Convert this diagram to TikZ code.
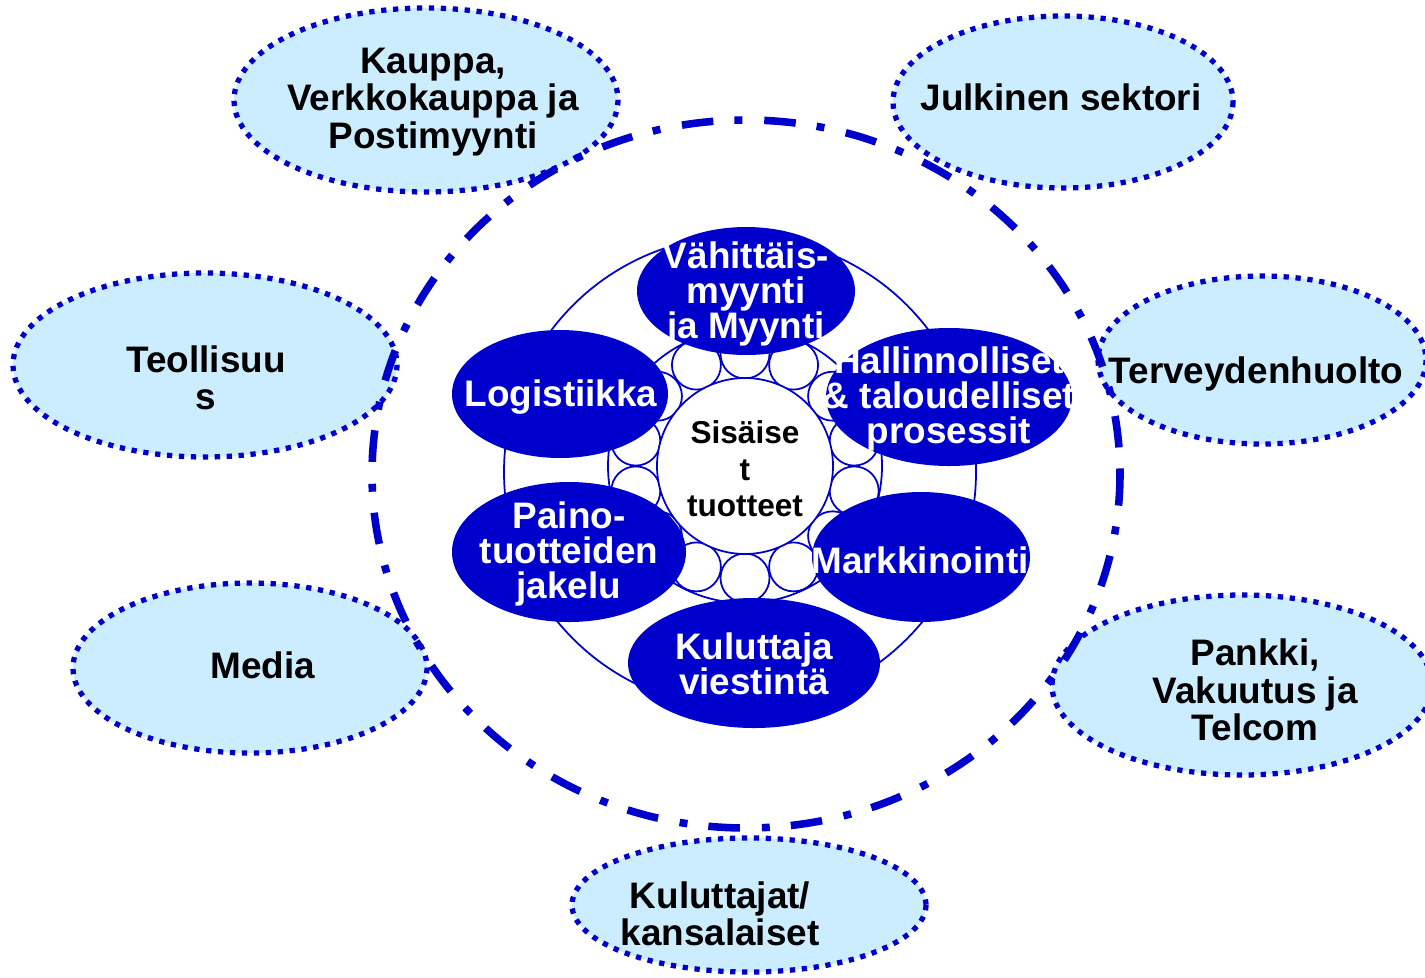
\documentclass[tikz,border=0pt]{standalone}
\usepackage{fontspec}
\setmainfont{Liberation Sans}
\definecolor{sininen}{HTML}{0000CC}
\definecolor{vaalea}{HTML}{CCECFF}

\begin{document}
\begin{tikzpicture}[x=0.02cm,y=-0.02cm,
    sektori/.style={fill=vaalea,draw=sininen,line width=3pt,dash pattern=on 3pt off 3.8pt},
    toiminto/.style={fill=sininen},
    ohut/.style={draw=sininen,line width=1pt,fill=white},
    valko/.style={text=white,font=\bfseries\fontsize{21}{20}\selectfont,align=center,inner sep=0pt},
    musta/.style={text=black,font=\bfseries\fontsize{21}{21.3}\selectfont,align=center,inner sep=0pt}]
  \useasboundingbox (0,0) rectangle (1425,977);

  % renkaat keskellä
  \draw[ohut] (740,472) circle[radius=236];
  \draw[ohut] (745,466) circle[radius=137];
  \foreach \a in {0,...,13}{
    \draw[ohut] (745,466) ++({90+\a*360/14}:112) circle[radius=24.5];
  };
  \draw[ohut] (745,466) circle[radius=88];
  \node[musta,font=\bfseries\fontsize{18}{20.8}\selectfont] (sisaiset) at (745,469) {Sisäise\\t\\tuotteet};

  % toiminnot
  \fill[toiminto] (746,291) ellipse[x radius=109,y radius=64];
  \fill[toiminto] (560,394) ellipse[x radius=108,y radius=64];
  \fill[toiminto] (949,397) ellipse[x radius=123,y radius=69];
  \fill[toiminto] (569,552) ellipse[x radius=117,y radius=70];
  \fill[toiminto] (921,557) ellipse[x radius=109,y radius=65];
  \fill[toiminto] (754,663) ellipse[x radius=126,y radius=65];
  \node[valko] (vahittais) at (746,294) {Vähittäis-\\myynti\\ja Myynti};
  \node[valko] (logistiikka) at (561,397) {Logistiikka};
  \node[valko] (hallinto) at (949,399) {Hallinnolliset\\\& taloudelliset\\prosessit};
  \node[valko] (paino) at (569,554) {Paino-\\tuotteiden\\jakelu};
  \node[valko] (markkinointi) at (920,560) {Markkinointi};
  \node[valko] (viestinta) at (754,664) {Kuluttaja\\viestintä};

  % sektorit
  \draw[sektori] (426,100) ellipse[x radius=192,y radius=92];
  \draw[sektori] (1063,102) ellipse[x radius=170,y radius=86];
  \draw[sektori] (205,365) ellipse[x radius=192,y radius=92];
  \draw[sektori] (1262,360) ellipse[x radius=164,y radius=84];
  \draw[sektori] (250,668) ellipse[x radius=177,y radius=85];
  \draw[sektori] (1242,685) ellipse[x radius=190,y radius=90];
  \draw[sektori] (749,905) ellipse[x radius=177,y radius=67];
  \node[musta] (kauppa) at (433,102) {Kauppa,\\Verkkokauppa ja\\Postimyynti};
  \node[musta] (julkinen) at (1061,97) {Julkinen sektori};
  \node[musta] (teollisuus) at (206,378) {Teollisuu\\s};
  \node[musta] (terveys) at (1256,374) {Terveydenhuolto};
  \node[musta] (media) at (263,665) {Media};
  \node[musta] (pankki) at (1255,690) {Pankki,\\Vakuutus ja\\Telcom};
  \node[musta] (kansalaiset) at (720,914) {Kuluttajat/\\kansalaiset};

  % ulompi raja
  \draw[sininen,line width=4.3pt,dash pattern=on 18pt off 12pt on 4.5pt off 12.5pt] (746,474) ellipse[x radius=374,y radius=354];
\end{tikzpicture}
\end{document}
